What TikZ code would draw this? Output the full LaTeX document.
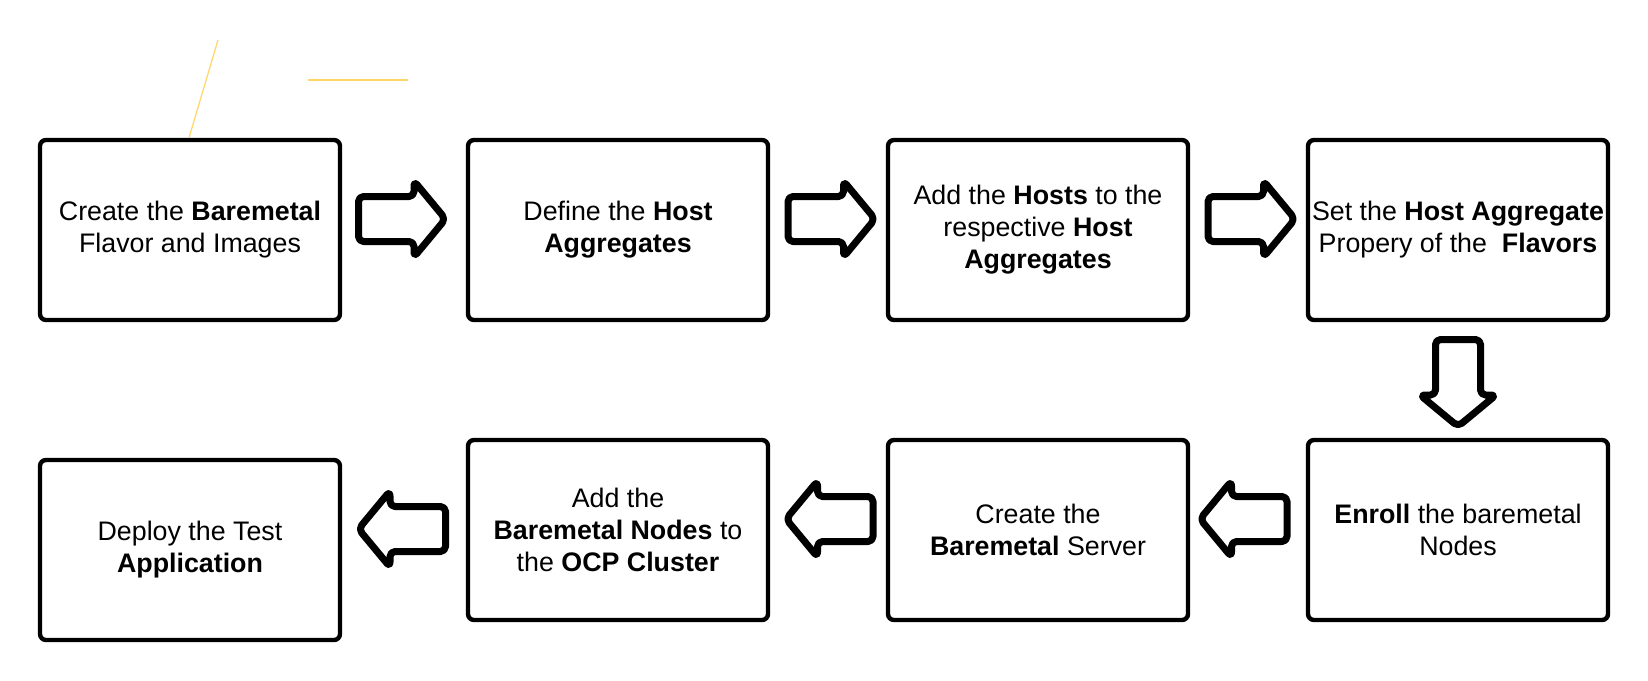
\documentclass[tikz,border=0pt]{standalone}
\usepackage{fontspec}
\setmainfont{Liberation Sans}
\usetikzlibrary{calc}
\definecolor{ylw}{RGB}{255,214,102}
\begin{document}
\begin{tikzpicture}[x=0.5pt,y=-0.5pt,
  box/.style={draw=black, line width=2.2pt, rounded corners=3pt, minimum width=150pt,
    minimum height=90pt, inner sep=0pt, align=center,
    font=\fontsize{13.4pt}{16pt}\selectfont},
  barrow/.style={draw=black, line width=3.5pt, line join=round, rounded corners=2.5pt, fill=white},
  pics/blockarrow/.style={code={\draw[barrow] (-43,-22.5) -- (12.5,-22.5) -- (12.5,-38)
      -- (44,0) -- (12.5,38) -- (12.5,22.5) -- (-43,22.5) -- cycle;}},
  stray/.style={draw=ylw, line width=0.6pt}
]
\useasboundingbox[fill=white] (0,0) rectangle (1648,680);

\node[box] (b1) at (190,230)  {Create the \textbf{Baremetal}\\Flavor and Images};
\node[box] (b2) at (618,230)  {Define the \textbf{Host}\\\textbf{Aggregates}};
\node[box] (b3) at (1038,230) {Add the \textbf{Hosts} to the\\respective \textbf{Host}\\\textbf{Aggregates}};
\node[box] (b4) at (1458,230) {Set the \textbf{Host Aggregate}\\Propery of the \ \textbf{Flavors}};
\node[box] (b5) at (1458,530) {\textbf{Enroll} the baremetal\\Nodes};
\node[box] (b6) at (1038,530) {Create the\\\textbf{Baremetal} Server};
\node[box] (b7) at (618,530)  {Add the\\\textbf{Baremetal Nodes} to\\the \textbf{OCP Cluster}};
\node[box] (b8) at (190,550)  {Deploy the Test\\\textbf{Application}};

\path ($(b1.east)!0.5!(b2.west)+(-2.5,-11)$) pic {blockarrow};
\path ($(b2.east)!0.5!(b3.west)+(3,-11)$) pic {blockarrow};
\path ($(b3.east)!0.5!(b4.west)+(3,-11)$) pic {blockarrow};
\path ($(b4.south)!0.5!(b5.north)+(0,2.5)$) pic[rotate=-90] {blockarrow};
\path ($(b5.west)!0.5!(b6.east)+(-4,-11)$) pic[rotate=180] {blockarrow};
\path ($(b6.west)!0.5!(b7.east)+(2,-11)$) pic[rotate=180] {blockarrow};
\path ($(b7.west)!0.5!(b8.east)+(-1.5,-11)$) pic[rotate=180] {blockarrow};

\coordinate (s1) at (218,40);
\coordinate (s2) at (308,80);
\coordinate (s3) at (408,80);
\draw[stray] (s1) -- (b1.north -| 189,0);
\draw[stray] (s2) -- (s3);
\end{tikzpicture}
\end{document}
